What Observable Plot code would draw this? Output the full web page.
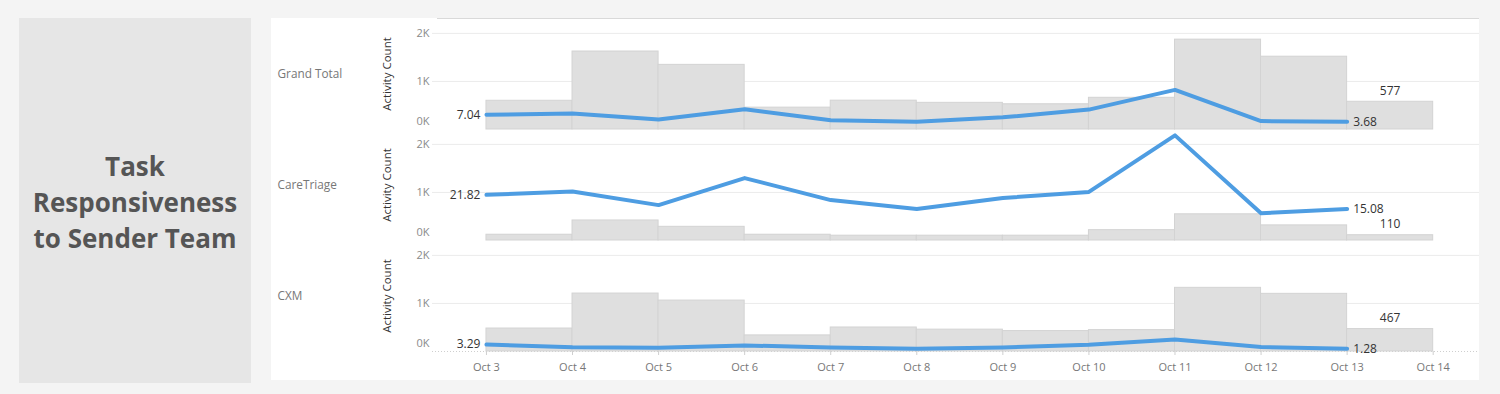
<!DOCTYPE html>
<html>
<head>
<meta charset="utf-8">
<script src="https://cdn.jsdelivr.net/npm/d3@7"></script>
<script src="https://cdn.jsdelivr.net/npm/@observablehq/plot@0.6"></script>
<style>
  html, body { margin: 0; padding: 0; background: #f4f4f4; }
  #root { position: relative; width: 1500px; height: 394px; overflow: hidden; font-family: "Open Sans", sans-serif; }
  #titlePanel { position: absolute; left: 19px; top: 18px; width: 232px; height: 365px; background: #e6e6e6;
    display: flex; align-items: center; justify-content: center; text-align: center;
    font-weight: 700; font-size: 26px; line-height: 36px; color: #555; }
  #chartPanel { position: absolute; left: 271px; top: 18px; width: 1208px; height: 362px; background: #fff; }
  #topLine { position: absolute; left: 437px; top: 18px; width: 1042px; height: 1px; background: #d9d9d9; }
  #root svg { position: absolute; left: 0; top: 0; }
</style>
</head>
<body>
<div id="root">
  <div id="titlePanel"><div style="margin-top:2px">Task<br>Responsiveness<br>to Sender Team</div></div>
  <div id="chartPanel"></div>
  <div id="topLine"></div>
</div>
<script>
// ---- data ----
const teams = ["Grand Total", "CareTriage", "CXM"];
const dates = ["2023-10-03","2023-10-04","2023-10-05","2023-10-06","2023-10-07","2023-10-08",
               "2023-10-09","2023-10-10","2023-10-11","2023-10-12","2023-10-13"];
const tickDateStrings = ["2023-10-03","2023-10-04","2023-10-05","2023-10-06","2023-10-07","2023-10-08",
                         "2023-10-09","2023-10-10","2023-10-11","2023-10-12","2023-10-13","2023-10-14"];
const tickLabels = ["Oct 3","Oct 4","Oct 5","Oct 6","Oct 7","Oct 8","Oct 9","Oct 10","Oct 11","Oct 12","Oct 13","Oct 14"];
const yTickLabels = ["0K", "1K", "2K"];

// Activity Count (bars)
const grandTotalCount = [598, 1623, 1345, 455, 600, 555, 525, 660, 1870, 1515, 577];
const careTriageCount = [120, 417, 285, 120, 100, 100, 100, 215, 545, 315, 110];
const cxmCount        = [478, 1206, 1060, 335, 500, 455, 425, 445, 1325, 1200, 467];

// Responsiveness (line)
const grandTotalResp = [7.04, 7.65, 4.8, 9.7, 4.45, 3.7, 5.8, 9.5, 18.9, 4.0, 3.68];
const careTriageResp = [21.82, 23.4, 16.9, 29.8, 19.3, 15.0, 20.3, 23.2, 50.2, 13.0, 15.08];
const cxmResp        = [3.29, 2.06, 1.8, 2.9, 1.9, 1.3, 1.9, 3.2, 5.7, 2.1, 1.28];

// ---- tables ----
const parse = d3.utcParse("%Y-%m-%d");
const countSeries = [grandTotalCount, careTriageCount, cxmCount];
const respSeries = [grandTotalResp, careTriageResp, cxmResp];
const barRows = [], lineRows = [];
teams.forEach((team, ti) => {
  dates.forEach((ds, i) => {
    const date = parse(ds);
    barRows.push({team, date, next: d3.utcDay.offset(date, 1), count: countSeries[ti][i]});
    lineRows.push({team, date, value: respSeries[ti][i]});
  });
});
const lastBars = barRows.filter(d => +d.date === +parse(dates[dates.length - 1]));
const firstPts = lineRows.filter(d => +d.date === +parse(dates[0]));
const lastPts = lineRows.filter(d => +d.date === +parse(dates[dates.length - 1]));
const tickDates = tickDateStrings.map(parse);

const DAY = 864e5;
const xDomain = [new Date(+tickDates[0] - 0.627 * DAY), new Date(+tickDates[tickDates.length - 1] + 0.538 * DAY)];

const common = {
  width: 1500, height: 394,
  marginTop: 18, marginBottom: 43, marginLeft: 432, marginRight: 21,
  style: {background: "transparent", fontFamily: "'Open Sans', sans-serif", overflow: "visible"}
};

const bars = Plot.plot({
  ...common,
  x: {type: "utc", domain: xDomain},
  y: {domain: [0, 2310]},
  fy: {domain: teams, padding: 0, axis: null},
  marks: [
    Plot.gridY({ticks: [1000, 2000], stroke: "#ebebeb", strokeOpacity: 1}),
    Plot.ruleY([{team: "CXM", v: 0}], {y: "v", fy: "team", stroke: "#cfcfcf", strokeDasharray: "1,2"}),
    Plot.rectY(barRows, {x1: "date", x2: "next", y: "count", fy: "team", fill: "#dfdfdf", stroke: "#d3d3d3", strokeWidth: 1}),
    Plot.axisY({ticks: [1000, 2000], tickSize: 0, tickPadding: 3, tickFormat: d => yTickLabels[d / 1000], fill: "#8a8a8a", fontSize: 11, label: null}),
    Plot.axisY({ticks: [0], tickSize: 0, tickPadding: 3, tickFormat: d => yTickLabels[0], dy: -8, fill: "#8a8a8a", fontSize: 11, label: null}),
    Plot.axisX({ticks: tickDates, tickSize: 4, tickPadding: 8, stroke: "#cfcfcf", fill: "#777",
      tickFormat: d => tickLabels[tickDates.findIndex(t => +t === +d)], fontSize: 11, label: null}),
    Plot.text(teams, {fy: d => d, text: d => d, frameAnchor: "left", dx: -155, textAnchor: "start", fill: "#777", fontSize: 11.8}),
    Plot.text(teams, {fy: d => d, text: () => "Activity Count", frameAnchor: "left", dx: -45, textAnchor: "middle", rotate: -90, fill: "#333", fontSize: 11.5}),
    Plot.text(lastBars, {x: d => new Date((+d.date + +d.next) / 2), y: "count", fy: "team", text: d => String(d.count), dy: -11, fill: "#333", fontSize: 12})
  ]
});

const lines = Plot.plot({
  ...common,
  x: {type: "utc", domain: xDomain, axis: null},
  y: {domain: [0, 53], axis: null},
  fy: {domain: teams, padding: 0, axis: null},
  marks: [
    Plot.line(lineRows, {x: "date", y: "value", fy: "team", stroke: "#4e9de2", strokeWidth: 4, strokeLinejoin: "round", strokeLinecap: "round"}),
    Plot.text(firstPts, {x: "date", y: "value", fy: "team", text: d => d.value.toFixed(2), textAnchor: "end", dx: -6, fill: "#333", fontSize: 12}),
    Plot.text(lastPts, {x: "date", y: "value", fy: "team", text: d => d.value.toFixed(2), textAnchor: "start", dx: 6, fill: "#333", fontSize: 12})
  ]
});

const root = document.getElementById("root");
root.appendChild(bars);
root.appendChild(lines);
</script>
</body>
</html>
